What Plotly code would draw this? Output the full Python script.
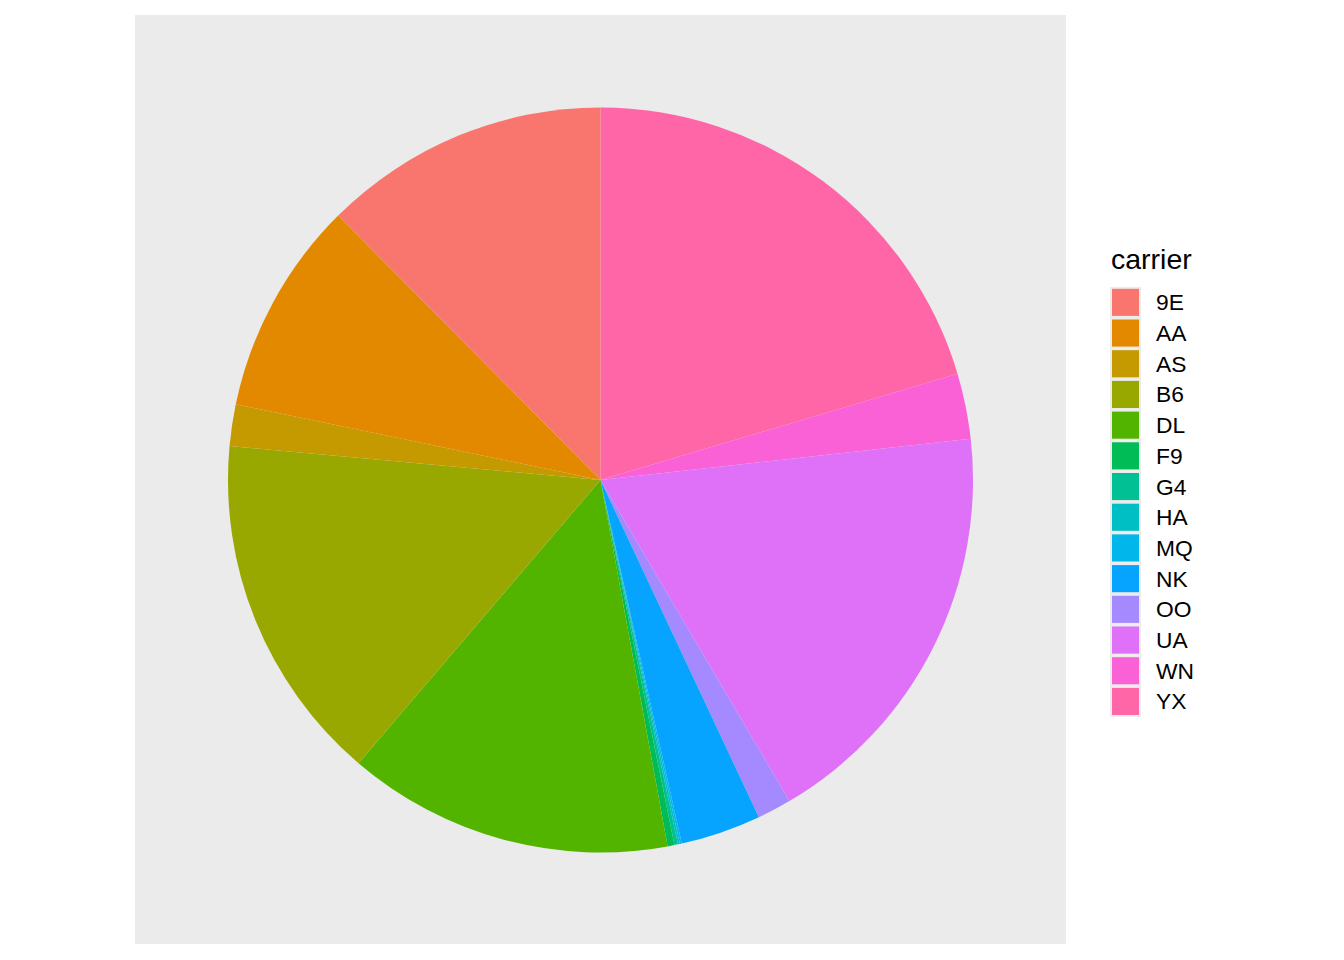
import math
import plotly.graph_objects as go

# flights per carrier (nycflights23)
carriers = ["9E", "AA", "AS", "B6", "DL", "F9", "G4", "HA", "MQ", "NK", "OO", "UA", "WN", "YX"]
flights = [54141, 40525, 7843, 66169, 61562, 1286, 671, 366, 357, 15189, 6432, 79641, 12385, 88785]

W, H = 1344, 960
OFF = 8  # page body margin


def px(x):
    return (x - OFF) / W


def py(y):
    return 1 - (y - OFF) / H


def hcl_to_hex(h, c=100, l=65):
    """ggplot2 hue_pal style colour (polar LUV -> sRGB)"""
    xn, yn, zn = 95.047, 100.0, 108.883
    u = c * math.cos(math.radians(h))
    v = c * math.sin(math.radians(h))
    y = yn * ((l + 16) / 116) ** 3
    un = 4 * xn / (xn + 15 * yn + 3 * zn)
    vn = 9 * yn / (xn + 15 * yn + 3 * zn)
    up = u / (13 * l) + un
    vp = v / (13 * l) + vn
    x = y * 9 * up / (4 * vp)
    z = y * (12 - 3 * up - 20 * vp) / (4 * vp)
    x, y, z = x / 100, y / 100, z / 100
    r = 3.240479 * x - 1.537150 * y - 0.498535 * z
    g = -0.969256 * x + 1.875992 * y + 0.041556 * z
    b = 0.055648 * x - 0.204043 * y + 1.057311 * z

    def gam(t):
        t = 12.92 * t if t <= 0.0031308 else 1.055 * t ** (1 / 2.4) - 0.055
        return int(round(min(max(t, 0), 1) * 255))
    return "#{:02X}{:02X}{:02X}".format(gam(r), gam(g), gam(b))


n = len(carriers)
colors = [hcl_to_hex(15 + 360 * i / n) for i in range(n)]

cx, cy, rad = 600.5, 480, 372.5

# ggplot stacks the first level last, so slices run YX ... 9E clockwise from 12 o'clock
fig = go.Figure(go.Pie(
    labels=carriers[::-1],
    values=flights[::-1],
    marker=dict(colors=colors[::-1], line=dict(width=0)),
    sort=False,
    direction="clockwise",
    rotation=0,
    textinfo="none",
    showlegend=False,
    domain=dict(x=[px(cx - rad), px(cx + rad)],
                y=[py(cy + rad), py(cy - rad)]),
))

shapes = [dict(type="rect", xref="paper", yref="paper", layer="below",
               x0=px(135), x1=px(1066), y0=py(944), y1=py(15),
               fillcolor="#EBEBEB", line=dict(width=0))]
annotations = [dict(text="carrier", xref="paper", yref="paper",
                    x=px(1109), y=py(259), xanchor="left", yanchor="middle",
                    showarrow=False, font=dict(size=28.5, color="black"))]

# legend keys
top, step = 287, 30.7
for i, (lab, col) in enumerate(zip(carriers, colors)):
    y0 = top + i * step
    shapes.append(dict(type="rect", xref="paper", yref="paper",
                       x0=px(1110), x1=px(1141), y0=py(y0 + step), y1=py(y0),
                       fillcolor="#EBEBEB", line=dict(width=0)))
    shapes.append(dict(type="rect", xref="paper", yref="paper",
                       x0=px(1112), x1=px(1139), y0=py(y0 + step - 1.8), y1=py(y0 + 1.8),
                       fillcolor=col, line=dict(width=0)))
    annotations.append(dict(text=lab, xref="paper", yref="paper",
                            x=px(1154), y=py(y0 + step / 2),
                            xanchor="left", yanchor="middle", showarrow=False,
                            font=dict(size=22.8, color="black")))

fig.update_layout(
    width=W, height=H,
    margin=dict(l=0, r=0, t=0, b=0),
    paper_bgcolor="white",
    font=dict(family="Liberation Sans, Arial, sans-serif"),
    shapes=shapes,
    annotations=annotations,
)

fig.write_html("out.html")
